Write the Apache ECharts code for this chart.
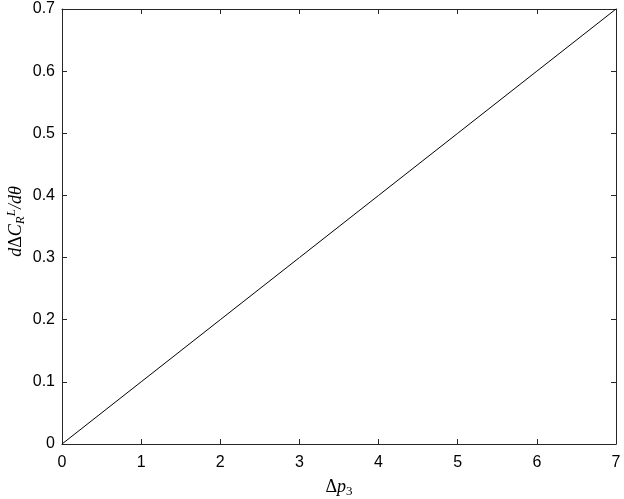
<!DOCTYPE html>
<html>
<head>
<meta charset="utf-8">
<script src="https://cdn.jsdelivr.net/npm/echarts@6/dist/echarts.min.js"></script>
<style>
  html, body { margin: 0; padding: 0; background: #fff; }
  #chart { width: 624px; height: 499px; }
</style>
</head>
<body>
<div id="chart"></div>
<script>
// data
const deltaP3 = [0, 1, 2, 3, 4, 5, 6, 7];
const slope = [0, 0.1, 0.2, 0.3, 0.4, 0.5, 0.6, 0.7];
const xTicks = [0, 1, 2, 3, 4, 5, 6, 7];
const yTicks = [0, 0.1, 0.2, 0.3, 0.4, 0.5, 0.6, 0.7];

const axisColor = '#262626';
const tickFont = { color: '#000', fontSize: 16, fontFamily: 'Liberation Sans, Arial' };
const mathFont = 'Liberation Serif, Times New Roman';

var myChart = echarts.init(document.getElementById('chart'));

function boxAxis() {
  return {
    axisLine: { show: true, onZero: false, lineStyle: { color: axisColor, width: 1 } },
    axisTick: { show: true, inside: true, length: 5, lineStyle: { color: axisColor } },
    splitLine: { show: false }
  };
}

function fmtY(v) { return v === 0 ? '0' : v.toFixed(1); }

myChart.setOption({
  animation: false,
  grid: { left: 62, right: 8, top: 9, bottom: 55, containLabel: false, outerBoundsMode: 'none' },
  xAxis: [
    Object.assign({
      type: 'value', min: 0, max: 7, interval: 1, position: 'bottom',
      name: '{up|Δ}{it|p}{sub|3}', nameLocation: 'middle', nameGap: 32,
      nameTextStyle: {
        rich: {
          up: { fontFamily: mathFont, fontSize: 18, color: '#000' },
          it: { fontFamily: mathFont, fontStyle: 'italic', fontSize: 18, color: '#000' },
          sub: { fontFamily: mathFont, fontSize: 13, color: '#000', padding: [9, 0, 0, 0] }
        }
      },
      axisLabel: Object.assign({ margin: 11 }, tickFont)
    }, boxAxis()),
    Object.assign({ type: 'value', min: 0, max: 7, interval: 1, position: 'top', axisLabel: { show: false } }, boxAxis())
  ],
  yAxis: [
    Object.assign({
      type: 'value', min: 0, max: 0.7, interval: 0.1, position: 'left',
      name: '{it|d}{up|Δ}{it|C}{sub|R}{sup|L}{it|/dθ}', nameLocation: 'middle', nameGap: 34, nameRotate: 90,
      nameMoveOverlap: false,
      nameTextStyle: {
        padding: [0, 0, 0, 10],
        rich: {
          it: { fontFamily: mathFont, fontStyle: 'italic', fontSize: 18, color: '#000' },
          up: { fontFamily: mathFont, fontSize: 18, color: '#000' },
          sub: { fontFamily: mathFont, fontStyle: 'italic', fontSize: 13, color: '#000', padding: [9, 0, 0, 0] },
          sup: { fontFamily: mathFont, fontStyle: 'italic', fontSize: 13, color: '#000', padding: [0, 0, 10, 0] }
        }
      },
      axisLabel: Object.assign({ formatter: fmtY, margin: 7 }, tickFont)
    }, boxAxis()),
    Object.assign({ type: 'value', min: 0, max: 0.7, interval: 0.1, position: 'right', axisLabel: { show: false } }, boxAxis())
  ],
  series: [
    {
      type: 'line',
      data: deltaP3.map(function (x, i) { return [x, slope[i]]; }),
      showSymbol: false,
      lineStyle: { color: '#000', width: 1 }
    }
  ]
});
</script>
</body>
</html>
